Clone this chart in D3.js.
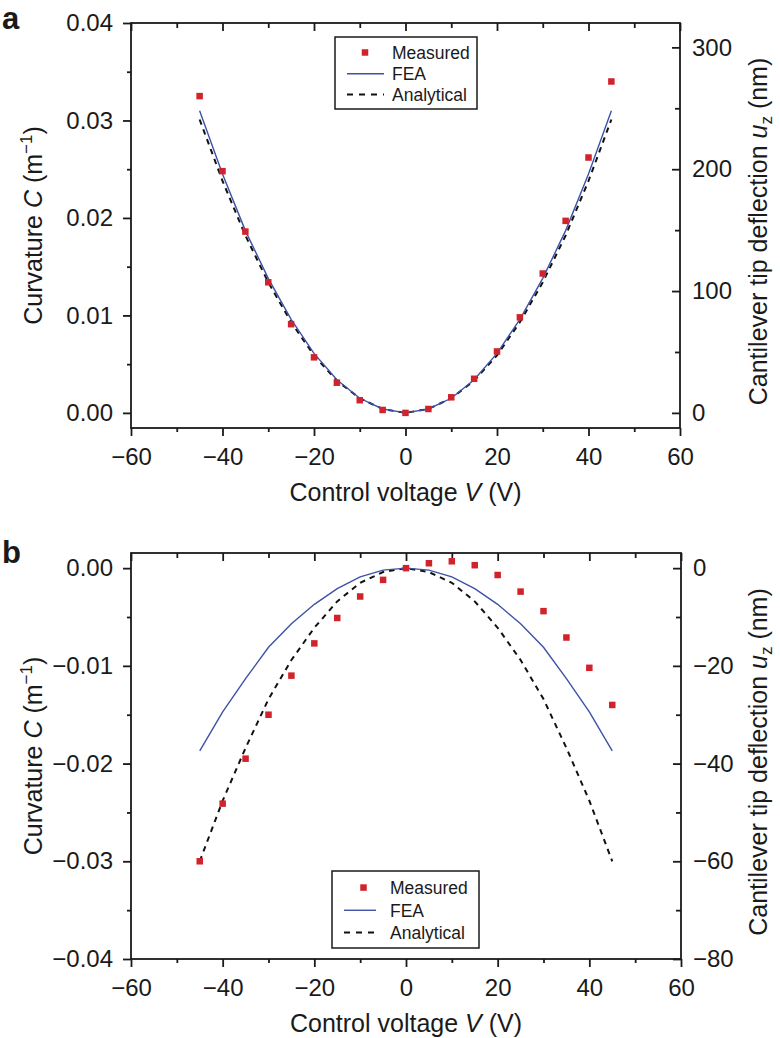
<!DOCTYPE html>
<html><head><meta charset="utf-8">
<script src="https://cdn.jsdelivr.net/npm/d3@7"></script>
<style>
body{margin:0;background:#fff}
svg{display:block}
text{font-family:"Liberation Sans",Arial,Helvetica,sans-serif;fill:#1a1a1a}
</style>
</head><body>
<svg id="chart" width="780" height="1038"></svg>
<script>
// ---------- data ----------
const voltages = [-45,-40,-35,-30,-25,-20,-15,-10,-5,0,5,10,15,20,25,30,35,40,45];

// Panel a
const measuredA   = [0.0325,0.0248,0.0186,0.0134,0.0091,0.0057,0.0031,0.0013,0.0003,0.0000,0.0004,0.0016,0.0035,0.0063,0.0098,0.0143,0.0197,0.0262,0.0340];
const feaA        = [0.0310,0.0245,0.0187,0.0138,0.0096,0.0061,0.0034,0.0015,0.0004,0.0000,0.0004,0.0015,0.0034,0.0061,0.0096,0.0138,0.0187,0.0245,0.0310];
const analyticalA = [0.0301,0.0238,0.0182,0.0134,0.0093,0.0059,0.0033,0.0015,0.0004,0.0000,0.0004,0.0015,0.0033,0.0059,0.0093,0.0134,0.0182,0.0238,0.0301];

// Panel b
const measuredB   = [-0.0300,-0.0241,-0.0195,-0.0150,-0.0110,-0.0077,-0.0051,-0.0029,-0.0012,0.0000,0.0005,0.0007,0.0003,-0.0007,-0.0024,-0.0044,-0.0071,-0.0102,-0.0140];
const feaB        = [-0.0187,-0.0147,-0.0113,-0.0081,-0.0057,-0.0037,-0.0021,-0.0009,-0.0002,0.0000,-0.0002,-0.0009,-0.0021,-0.0037,-0.0057,-0.0081,-0.0113,-0.0147,-0.0187];
const analyticalB = [-0.0300,-0.0238,-0.0184,-0.0134,-0.0094,-0.0061,-0.0034,-0.0015,-0.0004,0.0000,-0.0004,-0.0015,-0.0034,-0.0061,-0.0094,-0.0134,-0.0184,-0.0238,-0.0300];

// ticks
const xTicks = [-60,-40,-20,0,20,40,60];
const xMinorTicks = [-50,-30,-10,10,30,50];
const leftTicksA = [0,0.01,0.02,0.03,0.04];
const leftMinorA = [0.005,0.015,0.025,0.035];
const rightTicksA = [0,100,200,300];
const rightMinorA = [50,150,250];
const leftTicksB = [0,-0.01,-0.02,-0.03,-0.04];
const leftMinorB = [-0.005,-0.015,-0.025,-0.035];
const rightTicksB = [0,-20,-40,-60,-80];
const rightMinorB = [-10,-30,-50,-70];
const legendLabels = ["Measured","FEA","Analytical"];
const panelLabels = ["a","b"];

// ---------- style ----------
const RED = "#d0232b", BLUE = "#3d52a6", INK = "#1a1a1a";
const svg = d3.select("#chart");
svg.append("rect").attr("width",780).attr("height",1038).attr("fill","#fff");

function drawPanel(cfg){
  const {top,bottom,left,right} = cfg;
  const x = d3.scaleLinear().domain([-60,60]).range([left,right]);
  const yL = d3.scaleLinear().domain(cfg.leftDomain).range([bottom,top]);
  const yR = d3.scaleLinear().domain(cfg.rightDomain).range([bottom,top]);
  const g = svg.append("g");
  const fmtL = d3.format(".2f");
  const fmtR = d3.format("d");

  // axes
  const ax = (sel, axis) => {
    const a = g.append("g").attr("transform",sel).call(axis);
    a.select(".domain").remove();
    a.selectAll("line").attr("stroke",INK).attr("stroke-width",1.8);
    a.selectAll("text").attr("font-size",24).attr("fill",INK)
      .attr("font-family",'"Liberation Sans",Arial,sans-serif');
    return a;
  };
  ax(`translate(0,${bottom})`, d3.axisBottom(x).tickValues(xTicks).tickSize(8).tickPadding(12).tickFormat(d3.format("d")));
  ax(`translate(0,${bottom})`, d3.axisBottom(x).tickValues(xMinorTicks).tickSize(4).tickFormat(""));
  ax(`translate(0,${top})`, d3.axisTop(x).tickValues(xTicks).tickSize(-8).tickFormat(""));
  ax(`translate(0,${top})`, d3.axisTop(x).tickValues(xMinorTicks).tickSize(-5).tickFormat(""));
  ax(`translate(${left},0)`, d3.axisLeft(yL).tickValues(cfg.leftTicks).tickSize(8).tickPadding(10).tickFormat(fmtL));
  ax(`translate(${left},0)`, d3.axisLeft(yL).tickValues(cfg.leftMinor).tickSize(4).tickFormat(""));
  ax(`translate(${right},0)`, d3.axisRight(yR).tickValues(cfg.rightTicks).tickSize(-8).tickPadding(12).tickFormat(fmtR));
  ax(`translate(${right},0)`, d3.axisRight(yR).tickValues(cfg.rightMinor).tickSize(-5).tickFormat(""));

  // frame
  g.append("rect").attr("x",left).attr("y",top).attr("width",right-left).attr("height",bottom-top)
    .attr("fill","none").attr("stroke",INK).attr("stroke-width",1.8);

  // lines
  const line = d3.line().x((d,i)=>x(voltages[i])).y(d=>yL(d));
  g.append("path").datum(cfg.analytical).attr("d",line).attr("fill","none")
    .attr("stroke","#111").attr("stroke-width",2).attr("stroke-dasharray","5.5,5");
  g.append("path").datum(cfg.fea).attr("d",line).attr("fill","none")
    .attr("stroke",BLUE).attr("stroke-width",1.4);
  const s = 6.5;
  g.selectAll("rect.m").data(cfg.measured).enter().append("rect").attr("class","m")
    .attr("x",(d,i)=>x(voltages[i])-s/2).attr("y",d=>yL(d)-s/2)
    .attr("width",s).attr("height",s).attr("fill",RED);

  // titles
  const xt = g.append("text").attr("x",(left+right)/2).attr("y",bottom+73)
    .attr("text-anchor","middle").attr("font-size",25);
  xt.append("tspan").text("Control voltage ");
  xt.append("tspan").attr("font-style","italic").text("V");
  xt.append("tspan").text(" (V)");

  const cy = (top+bottom)/2;
  const lt = g.append("text").attr("transform",`translate(42,${cy}) rotate(-90)`)
    .attr("text-anchor","middle").attr("font-size",25);
  lt.append("tspan").text("Curvature ");
  lt.append("tspan").attr("font-style","italic").text("C");
  lt.append("tspan").text(" (m");
  lt.append("tspan").attr("font-size",17).attr("dy",-10).text("\u22121");
  lt.append("tspan").attr("dy",10).text(")");

  const rt = g.append("text").attr("transform",`translate(767,${cy+6}) rotate(-90)`)
    .attr("text-anchor","middle").attr("font-size",25);
  rt.append("tspan").text("Cantilever tip deflection ");
  rt.append("tspan").attr("font-style","italic").text("u");
  rt.append("tspan").attr("font-size",17).attr("dy",5).text("z");
  rt.append("tspan").attr("dy",-5).text(" (nm)");

  // panel label
  g.append("text").attr("x",2).attr("y",cfg.labelY).attr("font-size",31)
    .attr("font-weight","bold").text(cfg.label);

  // legend
  const L = cfg.legend;
  g.append("rect").attr("x",L.x).attr("y",L.y).attr("width",L.w).attr("height",L.h)
    .attr("fill","#fff").attr("stroke",INK).attr("stroke-width",1.5);
  const rows = [L.y+L.h*0.215, L.y+L.h*0.51, L.y+L.h*0.80];
  g.append("rect").attr("x",L.mx-s/2).attr("y",rows[0]-s/2).attr("width",s).attr("height",s).attr("fill",RED);
  g.append("line").attr("x1",L.l1).attr("x2",L.l2).attr("y1",rows[1]).attr("y2",rows[1])
    .attr("stroke",BLUE).attr("stroke-width",1.4);
  g.append("line").attr("x1",L.l1).attr("x2",L.l2).attr("y1",rows[2]).attr("y2",rows[2])
    .attr("stroke","#111").attr("stroke-width",2).attr("stroke-dasharray","6,6");
  legendLabels.forEach((t,i)=>{
    g.append("text").attr("x",L.tx).attr("y",rows[i]+6.5).attr("font-size",17.5).text(t);
  });
}

drawPanel({
  top:23, bottom:428, left:131, right:680,
  leftDomain:[-0.00155,0.04], rightDomain:[-12.4,320],
  leftTicks:leftTicksA, leftMinor:leftMinorA, rightTicks:rightTicksA, rightMinor:rightMinorA,
  measured:measuredA, fea:feaA, analytical:analyticalA,
  label:panelLabels[0], labelY:28.5,
  legend:{x:335,y:37,w:142,h:72,mx:365,l1:347,l2:384,tx:392}
});
drawPanel({
  top:553, bottom:959, left:131, right:681,
  leftDomain:[-0.04,0.00155], rightDomain:[-80,3.1],
  leftTicks:leftTicksB, leftMinor:leftMinorB, rightTicks:rightTicksB, rightMinor:rightMinorB,
  measured:measuredB, fea:feaB, analytical:analyticalB,
  label:panelLabels[1], labelY:563,
  legend:{x:332,y:871,w:147,h:77,mx:363.5,l1:344,l2:376,tx:390}
});
</script>
</body></html>
